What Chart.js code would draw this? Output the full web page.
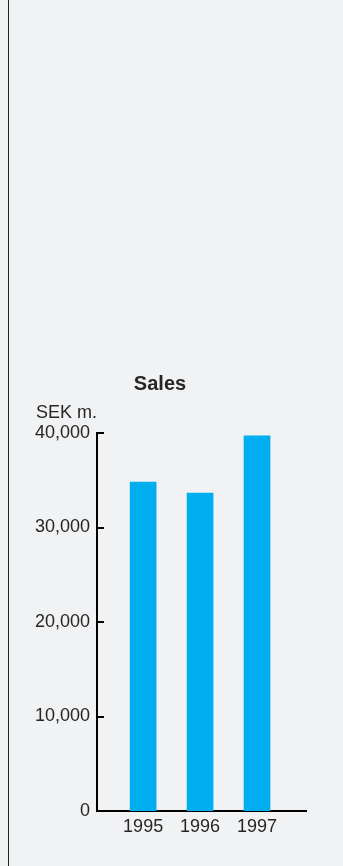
<!DOCTYPE html>
<html>
<head>
    <title>Sales</title>
    <script src="https://cdn.jsdelivr.net/npm/chart.js@4"></script>
    <style>
        html, body {
            margin: 0;
            padding: 0;
            background-color: #f1f2f4;
        }
        /* thin rule down the left side of the page */
        .rule {
            position: absolute;
            left: 8px;
            top: 0;
            width: 1px;
            height: 866px;
            background-color: #222;
        }
        .chart-box {
            position: absolute;
            left: 0;
            top: 0;
            width: 343px;
            height: 866px;
        }
    </style>
</head>
<body>
    <div class="rule"></div>
    <div class="chart-box"><canvas id="salesChart"></canvas></div>

    <script type="text/javascript">
        var years = [1995, 1996, 1997];
        var sales = [34800, 33650, 39700]; // SEK m.
        var yTicks = [0, 10000, 20000, 30000, 40000];
        var unitLabel = 'SEK m.';

        var tickFont = { family: 'Liberation Sans', size: 18 };

        // short tick marks pointing into the plot, plus the unit text above the axis
        var axisMarks = {
            id: 'axisMarks',
            afterDraw: function(chart) {
                var ctx = chart.ctx;
                var area = chart.chartArea;
                var y = chart.scales.y;
                ctx.save();
                ctx.strokeStyle = '#000';
                ctx.lineWidth = 2;
                yTicks.forEach(function(v) {
                    if (v === 0) return;
                    var py = Math.round(y.getPixelForValue(v));
                    ctx.beginPath();
                    ctx.moveTo(area.left - 1, py);
                    ctx.lineTo(area.left + 7, py);
                    ctx.stroke();
                });
                ctx.fillStyle = '#262626';
                ctx.font = '18px "Liberation Sans"';
                ctx.textAlign = 'right';
                ctx.textBaseline = 'alphabetic';
                ctx.fillText(unitLabel, area.left, area.top - 15);
                ctx.restore();
            }
        };

        var salesChart = new Chart(document.getElementById('salesChart').getContext('2d'), {
            type: 'bar',
            data: {
                datasets: [{
                    label: 'Sales',
                    data: years.map(function(yr, i) { return { x: yr, y: sales[i] }; }),
                    backgroundColor: '#00aeef',
                    borderWidth: 0,
                    barThickness: 26
                }]
            },
            options: {
                responsive: true,
                maintainAspectRatio: false,
                animation: false,
                layout: {
                    padding: { left: 14, right: 37, top: 360, bottom: 0 }
                },
                plugins: {
                    legend: { display: false },
                    tooltip: { enabled: false },
                    title: {
                        display: true,
                        text: 'Sales',
                        color: '#262626',
                        font: { family: 'Liberation Sans', size: 20, weight: 'bold' },
                        padding: { top: 12, bottom: 37 }
                    }
                },
                scales: {
                    x: {
                        type: 'linear',
                        offset: false,
                        min: 1994.19,
                        max: 1997.86,
                        grid: { display: false, drawTicks: false },
                        border: { display: true, color: '#000', width: 2 },
                        ticks: {
                            stepSize: 1,
                            includeBounds: false,
                            color: '#262626',
                            font: tickFont,
                            padding: 5,
                            callback: function(v) { return String(v); }
                        },
                        afterFit: function(scale) { scale.height = 55; }
                    },
                    y: {
                        min: 0,
                        max: 40000,
                        grid: { display: false, drawTicks: false },
                        border: { display: true, color: '#000', width: 2 },
                        ticks: {
                            stepSize: 10000,
                            color: '#262626',
                            font: tickFont,
                            padding: 7
                        },
                        afterFit: function(scale) { scale.width = 83; }
                    }
                }
            },
            plugins: [axisMarks]
        });
    </script>
</body>
</html>
